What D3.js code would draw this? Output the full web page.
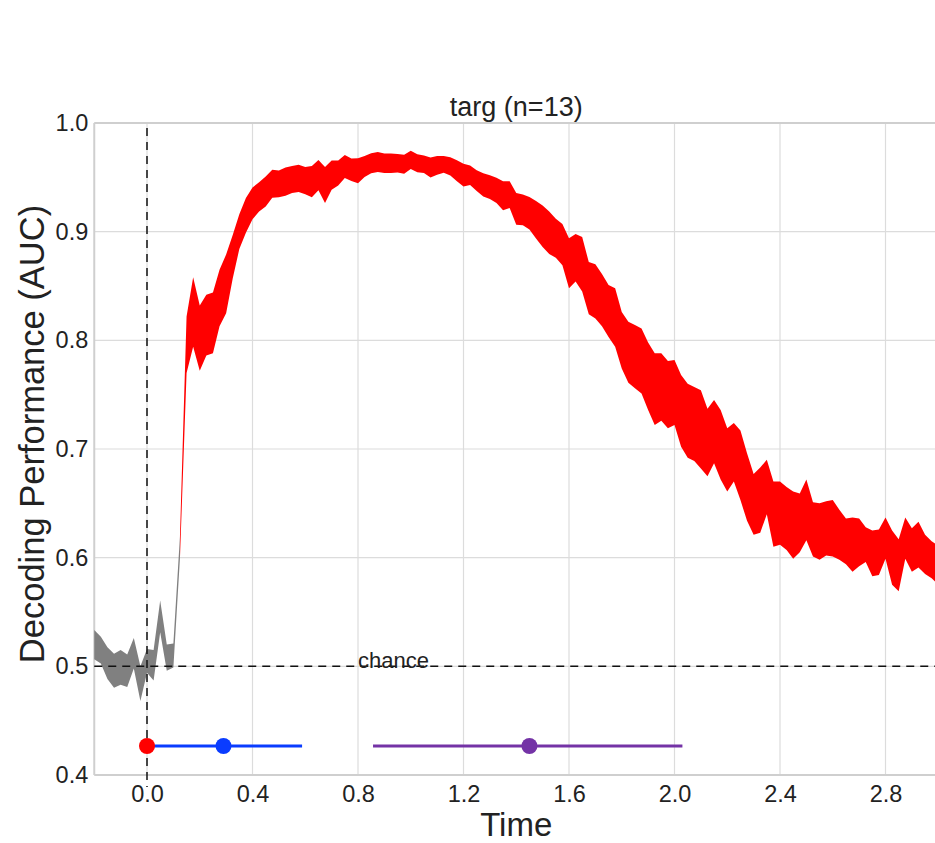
<!DOCTYPE html>
<html>
<head>
<meta charset="utf-8">
<script src="https://cdn.jsdelivr.net/npm/d3@7"></script>
<style>
  body { margin: 0; background: #fff; }
  text { font-family: "Liberation Sans", Arial, Helvetica, sans-serif; fill: #222; }
</style>
</head>
<body>
<div id="chart"></div>
<script>
// sample grid: -0.2 .. 3.0 s in 25 ms steps
var times = d3.range(129).map(i => +(-0.2 + i * 0.025).toFixed(3));

// mean AUC per time point
var auc = [
  0.520, 0.515, 0.503, 0.496, 0.499, 0.496, 0.512, 0.484, 0.505, 0.501,
  0.546, 0.508, 0.510, 0.610, 0.796, 0.826, 0.802, 0.814, 0.816, 0.839,
  0.852, 0.877, 0.900, 0.915, 0.926, 0.932, 0.937, 0.944, 0.944, 0.946,
  0.948, 0.949, 0.947, 0.946, 0.952, 0.943, 0.952, 0.954, 0.960, 0.957,
  0.956, 0.960, 0.963, 0.964, 0.963, 0.963, 0.963, 0.962, 0.966, 0.963,
  0.962, 0.959, 0.961, 0.962, 0.960, 0.956, 0.952, 0.952, 0.947, 0.943,
  0.941, 0.938, 0.933, 0.934, 0.921, 0.920, 0.917, 0.911, 0.905, 0.899,
  0.894, 0.888, 0.871, 0.876, 0.870, 0.848, 0.845, 0.837, 0.827, 0.821,
  0.800, 0.789, 0.785, 0.781, 0.767, 0.755, 0.757, 0.750, 0.752, 0.735,
  0.726, 0.723, 0.718, 0.706, 0.716, 0.704, 0.690, 0.697, 0.685, 0.665,
  0.649, 0.653, 0.665, 0.640, 0.641, 0.636, 0.630, 0.632, 0.644, 0.626,
  0.624, 0.627, 0.627, 0.621, 0.615, 0.612, 0.614, 0.612, 0.604, 0.605,
  0.618, 0.600, 0.593, 0.618, 0.607, 0.612, 0.603, 0.598, 0.593
];

// standard error per time point
var sem = [
  0.0135, 0.0123, 0.0146, 0.0156, 0.016, 0.015, 0.014, 0.016, 0.011, 0.014,
  0.0146, 0.012, 0.011, 0.010, 0.026, 0.032, 0.030, 0.028, 0.028, 0.026,
  0.027, 0.020, 0.016, 0.016, 0.0146, 0.0135, 0.0138, 0.0129, 0.0123, 0.013,
  0.0124, 0.0126, 0.0126, 0.0144, 0.014, 0.0166, 0.0135, 0.0115, 0.0106, 0.0103,
  0.0115, 0.0097, 0.0092, 0.0092, 0.009, 0.009, 0.0085, 0.0087, 0.0084, 0.0083,
  0.0081, 0.0092, 0.0086, 0.0077, 0.0084, 0.0097, 0.0104, 0.009, 0.0095, 0.0107,
  0.011, 0.0117, 0.0133, 0.0123, 0.0146, 0.0141, 0.015, 0.0173, 0.019, 0.0196,
  0.018, 0.019, 0.023, 0.0218, 0.025, 0.024, 0.025, 0.024, 0.024, 0.027,
  0.026, 0.028, 0.029, 0.030, 0.031, 0.033, 0.031, 0.031, 0.030, 0.033,
  0.034, 0.034, 0.036, 0.031, 0.029, 0.032, 0.029, 0.027, 0.032, 0.031,
  0.028, 0.030, 0.025, 0.030, 0.029, 0.029, 0.031, 0.027, 0.028, 0.025,
  0.026, 0.025, 0.026, 0.023, 0.021, 0.025, 0.022, 0.016, 0.021, 0.021,
  0.019, 0.025, 0.024, 0.019, 0.020, 0.021, 0.018, 0.017, 0.018
];

var sigOnset = 0.125;           // first significant time point
var chance = 0.5;
var xTicks = [0.0, 0.4, 0.8, 1.2, 1.6, 2.0, 2.4, 2.8];
var yTicks = [0.4, 0.5, 0.6, 0.7, 0.8, 0.9, 1.0];

// behavioural markers (dots) and intervals (lines)
var markerLevel = 0.4267;
var markerTimes = [0.0, 0.29, 1.45];
var intervals = [[0.0, 0.588], [0.857, 2.03]];

var width = 935, height = 843;
var margin = {left: 94.25, right: 938.25, top: 123, bottom: 775};

var svg = d3.select("#chart").append("svg")
    .attr("width", width)
    .attr("height", height);

var x = d3.scaleLinear().domain([-0.2, 3.0]).range([margin.left, margin.right]);
var y = d3.scaleLinear().domain([0.4, 1.0]).range([margin.bottom, margin.top]);

// grid
svg.append("g").selectAll("line").data(xTicks).enter().append("line")
    .attr("x1", d => x(d)).attr("x2", d => x(d))
    .attr("y1", margin.top).attr("y2", margin.bottom)
    .style("stroke", "#dcdcdc").style("stroke-width", 1.2);
svg.append("g").selectAll("line").data(yTicks).enter().append("line")
    .attr("x1", margin.left).attr("x2", width)
    .attr("y1", d => y(d)).attr("y2", d => y(d))
    .style("stroke", "#dcdcdc").style("stroke-width", 1.2);

// frame
svg.append("line").attr("x1", margin.left).attr("x2", margin.left)
    .attr("y1", margin.top).attr("y2", margin.bottom)
    .style("stroke", "#cfcfcf").style("stroke-width", 2);
svg.append("line").attr("x1", margin.left).attr("x2", width)
    .attr("y1", margin.bottom).attr("y2", margin.bottom)
    .style("stroke", "#cfcfcf").style("stroke-width", 2);
svg.append("line").attr("x1", margin.left).attr("x2", width)
    .attr("y1", margin.top).attr("y2", margin.top)
    .style("stroke", "#cfcfcf").style("stroke-width", 2);

// axes (labels only)
var xAxis = d3.axisBottom(x).tickValues(xTicks).tickSize(0).tickFormat(d3.format(".1f"));
var yAxis = d3.axisLeft(y).tickValues(yTicks).tickSize(0).tickFormat(d3.format(".1f"));

var gx = svg.append("g").attr("transform", `translate(0,${margin.bottom})`).call(xAxis);
gx.select(".domain").remove();
gx.selectAll("text").attr("dy", null).attr("y", 27).style("font-size", "23.5px").style("fill", "#222");

var gy = svg.append("g").attr("transform", `translate(${margin.left},0)`).call(yAxis);
gy.select(".domain").remove();
gy.selectAll("text").attr("x", -6).style("font-size", "23.5px").style("fill", "#222");

// band
var pts = times.map((t, i) => ({t: t, lo: auc[i] - sem[i], hi: auc[i] + sem[i]}));
var area = d3.area().x(d => x(d.t)).y0(d => y(d.lo)).y1(d => y(d.hi));

svg.append("path")
    .datum(pts.filter(d => d.t <= sigOnset))
    .attr("d", area)
    .style("fill", "#808080");
svg.append("path")
    .datum(pts.filter(d => d.t >= sigOnset))
    .attr("d", area)
    .style("fill", "#ff0000");

// reference lines
svg.append("line")
    .attr("x1", x(0)).attr("x2", x(0))
    .attr("y1", margin.top + 5).attr("y2", margin.bottom + 12)
    .style("stroke", "#111").style("stroke-width", 1.5).style("stroke-dasharray", "8,6");
svg.append("line")
    .attr("x1", margin.left).attr("x2", width)
    .attr("y1", y(chance)).attr("y2", y(chance))
    .style("stroke", "#111").style("stroke-width", 1.5).style("stroke-dasharray", "8,6");

svg.append("text")
    .attr("x", x(0.8)).attr("y", y(chance) + 2)
    .style("font-size", "22px")
    .text("chance");

// markers
var markerColors = ["#ff0000", "#0a3cff", "#7433a6"];
var intervalColors = ["#0a3cff", "#7433a6"];

svg.selectAll(".interval").data(intervals).enter().append("line")
    .attr("class", "interval")
    .attr("x1", d => x(d[0])).attr("x2", d => x(d[1]))
    .attr("y1", y(markerLevel)).attr("y2", y(markerLevel))
    .style("stroke", (d, i) => intervalColors[i])
    .style("stroke-width", 3);

svg.selectAll(".marker").data(markerTimes).enter().append("circle")
    .attr("class", "marker")
    .attr("cx", d => x(d)).attr("cy", y(markerLevel))
    .attr("r", 8)
    .style("fill", (d, i) => markerColors[i]);

// titles
svg.append("text")
    .attr("x", (margin.left + margin.right) / 2).attr("y", 116)
    .style("text-anchor", "middle").style("font-size", "27px")
    .text("targ (n=13)");

svg.append("text")
    .attr("x", (margin.left + margin.right) / 2).attr("y", 836)
    .style("text-anchor", "middle").style("font-size", "33px")
    .text("Time");

svg.append("text")
    .attr("transform", "rotate(-90)")
    .attr("x", -434).attr("y", 44)
    .style("text-anchor", "middle").style("font-size", "34.5px")
    .text("Decoding Performance (AUC)");
</script>
</body>
</html>
